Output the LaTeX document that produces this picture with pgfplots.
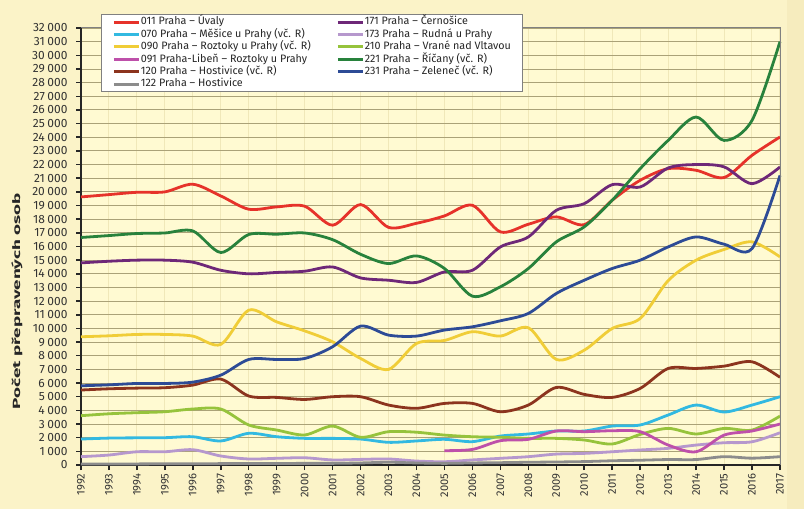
\documentclass[border=0pt]{standalone}
\usepackage{fontspec}
\setmainfont{Fira Sans}
\usepackage{graphicx}
\usepackage{pgfplots}
\pgfplotsset{compat=1.18}
\definecolor{bgout}{RGB}{251,243,200}
\definecolor{bgstrip}{RGB}{246,236,190}
\definecolor{plotbg}{RGB}{255,250,210}
\definecolor{gridh}{RGB}{170,162,120}
\definecolor{gridv}{RGB}{240,232,185}
\definecolor{c011}{RGB}{230,50,42}
\definecolor{c070}{RGB}{50,185,225}
\definecolor{c090}{RGB}{240,205,55}
\definecolor{c091}{RGB}{190,80,170}
\definecolor{c120}{RGB}{140,52,30}
\definecolor{c122}{RGB}{140,140,140}
\definecolor{c171}{RGB}{110,40,120}
\definecolor{c173}{RGB}{182,152,205}
\definecolor{c210}{RGB}{150,195,60}
\definecolor{c221}{RGB}{40,130,60}
\definecolor{c231}{RGB}{45,75,150}
\newcommand{\legtxt}[1]{\makebox[195bp][l]{#1}}
\newcommand{\legtxtb}[1]{#1}
\begin{document}
\begin{tikzpicture}
\fill[bgout] (-81bp,-44bp) rectangle (723bp,465bp);
\fill[bgstrip] (706bp,-44bp) rectangle (723bp,465bp);
\begin{axis}[
  at={(0,0)}, anchor=south west,
  scale only axis, width=699bp, height=437bp,
  xmin=1992, xmax=2017, ymin=0, ymax=32000,
  xtick={1992,...,2017}, ytick={0,1000,...,32000},
  scaled y ticks=false,
  axis lines=left,
  axis line style={line width=2.5bp, black!85, -},
  axis background/.style={fill=plotbg},
  tick align=outside, major tick length=5bp,
  tick style={black!85, line width=1.5bp},
  grid=major,
  major x grid style={color=gridv, line width=1bp},
  major y grid style={color=gridh, line width=0.9bp},
  /pgf/number format/assume math mode=true,
  yticklabel style={font=\fontsize{12}{12}\selectfont, text=black!80, xshift=-5bp,
    /pgf/number format/1000 sep={\kern0.22em}},
  xticklabel style={font=\fontsize{11.2}{11.2}\selectfont, text=black!80, rotate=90, anchor=east,
    /pgf/number format/1000 sep={}},
  clip=false,
  every axis plot/.append style={line width=2.8bp, smooth},
  legend columns=2,
  legend cell align=left,
  legend image code/.code={\draw[#1, line width=3bp] (0bp,0bp) -- (25bp,0bp);},
  legend style={at={(rel axis cs:0.0286,1.032)}, anchor=north west, fill=white, draw=gray,
    line width=0.8bp, font=\fontsize{10.8}{10.8}\selectfont, text=black!85, row sep=0bp,
    nodes={inner xsep=0.5bp, inner ysep=1bp, text height=8bp, text depth=2.4bp},
    inner xsep=11bp, inner ysep=1.5bp},
]
\addplot[c011] coordinates {(1992,19630)(1993,19800)(1994,19970)(1995,20000)(1996,20560)(1997,19700)(1998,18730)(1999,18900)(2000,18950)(2001,17560)(2002,19070)(2003,17400)(2004,17700)(2005,18240)(2006,19020)(2007,17070)(2008,17630)(2009,18170)(2010,17600)(2011,19390)(2012,20850)(2013,21700)(2014,21580)(2015,21050)(2016,22680)(2017,24020)};
\addlegendentry{\legtxt{011 Praha – Úvaly}}
\addplot[c171] coordinates {(1992,14800)(1993,14920)(1994,15000)(1995,15000)(1996,14850)(1997,14260)(1998,14000)(1999,14100)(2000,14190)(2001,14500)(2002,13700)(2003,13530)(2004,13370)(2005,14140)(2006,14260)(2007,15970)(2008,16700)(2009,18650)(2010,19140)(2011,20530)(2012,20360)(2013,21750)(2014,22000)(2015,21830)(2016,20600)(2017,21820)};
\addlegendentry{\legtxtb{171 Praha – Černošice}}
\addplot[c070] coordinates {(1992,1900)(1993,1970)(1994,1990)(1995,2000)(1996,2070)(1997,1760)(1998,2320)(1999,2070)(2000,1950)(2001,1950)(2002,1900)(2003,1660)(2004,1760)(2005,1880)(2006,1710)(2007,2120)(2008,2270)(2009,2490)(2010,2490)(2011,2850)(2012,2930)(2013,3660)(2014,4390)(2015,3880)(2016,4390)(2017,5000)};
\addlegendentry{\legtxt{070 Praha – Měšice u Prahy (vč. R)}}
\addplot[c173] coordinates {(1992,610)(1993,730)(1994,970)(1995,970)(1996,1120)(1997,660)(1998,440)(1999,490)(2000,530)(2001,370)(2002,410)(2003,440)(2004,290)(2005,240)(2006,370)(2007,490)(2008,610)(2009,800)(2010,850)(2011,970)(2012,1100)(2013,1220)(2014,1460)(2015,1630)(2016,1700)(2017,2360)};
\addlegendentry{\legtxtb{173 Praha – Rudná u Prahy}}
\addplot[c090] coordinates {(1992,9390)(1993,9460)(1994,9560)(1995,9560)(1996,9440)(1997,8830)(1998,11340)(1999,10480)(2000,9820)(2001,9020)(2002,7800)(2003,7000)(2004,8900)(2005,9120)(2006,9760)(2007,9440)(2008,10050)(2009,7730)(2010,8410)(2011,10000)(2012,10730)(2013,13500)(2014,15000)(2015,15780)(2016,16340)(2017,15240)};
\addlegendentry{\legtxt{090 Praha – Roztoky u Prahy (vč. R)}}
\addplot[c210] coordinates {(1992,3610)(1993,3750)(1994,3830)(1995,3900)(1996,4100)(1997,4100)(1998,2930)(1999,2560)(2000,2200)(2001,2850)(2002,2030)(2003,2440)(2004,2400)(2005,2190)(2006,2070)(2007,2030)(2008,1950)(2009,1950)(2010,1830)(2011,1540)(2012,2240)(2013,2680)(2014,2270)(2015,2680)(2016,2560)(2017,3580)};
\addlegendentry{\legtxtb{210 Praha – Vrané nad Vltavou}}
\addplot[c091] coordinates {(2005,1050)(2006,1140)(2007,1780)(2008,1880)(2009,2490)(2010,2440)(2011,2510)(2012,2440)(2013,1460)(2014,970)(2015,2190)(2016,2490)(2017,3000)};
\addlegendentry{\legtxt{091 Praha-Libeň – Roztoky u Prahy}}
\addplot[c221] coordinates {(1992,16660)(1993,16800)(1994,16950)(1995,16990)(1996,17140)(1997,15560)(1998,16880)(1999,16900)(2000,16990)(2001,16500)(2002,15430)(2003,14750)(2004,15310)(2005,14390)(2006,12360)(2007,13050)(2008,14390)(2009,16340)(2010,17440)(2011,19390)(2012,21700)(2013,23770)(2014,25480)(2015,23770)(2016,25240)(2017,31000)};
\addlegendentry{\legtxtb{221 Praha – Říčany (vč. R)}}
\addplot[c120] coordinates {(1992,5490)(1993,5580)(1994,5630)(1995,5660)(1996,5850)(1997,6290)(1998,5050)(1999,4950)(2000,4800)(2001,5000)(2002,5000)(2003,4390)(2004,4150)(2005,4510)(2006,4510)(2007,3900)(2008,4390)(2009,5680)(2010,5170)(2011,4950)(2012,5610)(2013,7070)(2014,7070)(2015,7240)(2016,7560)(2017,6420)};
\addlegendentry{\legtxt{120 Praha – Hostivice (vč. R)}}
\addplot[c231] coordinates {(1992,5800)(1993,5870)(1994,5970)(1995,5970)(1996,6070)(1997,6580)(1998,7730)(1999,7730)(2000,7800)(2001,8660)(2002,10170)(2003,9510)(2004,9440)(2005,9880)(2006,10120)(2007,10560)(2008,11100)(2009,12560)(2010,13530)(2011,14390)(2012,15000)(2013,15970)(2014,16700)(2015,16170)(2016,15850)(2017,21200)};
\addlegendentry{\legtxtb{231 Praha – Zeleneč (vč. R)}}
\addplot[c122] coordinates {(1992,80)(1993,80)(1994,80)(1995,90)(1996,90)(1997,100)(1998,110)(1999,110)(2000,120)(2001,120)(2002,150)(2003,200)(2004,150)(2005,120)(2006,150)(2007,170)(2008,200)(2009,220)(2010,250)(2011,310)(2012,350)(2013,400)(2014,400)(2015,610)(2016,500)(2017,610)};
\addlegendentry{\legtxt{122 Praha – Hostivice}}
\draw[gray, line width=1bp] (rel axis cs:0,1) -- (rel axis cs:1,1) -- (rel axis cs:1,0);
\end{axis}
\node[rotate=90, font=\bfseries\fontsize{10.5}{10.5}\selectfont, text=black!85] at (-64bp,164bp) {\scalebox{1.8}[1]{Počet přepravených osob}};
\end{tikzpicture}
\end{document}
